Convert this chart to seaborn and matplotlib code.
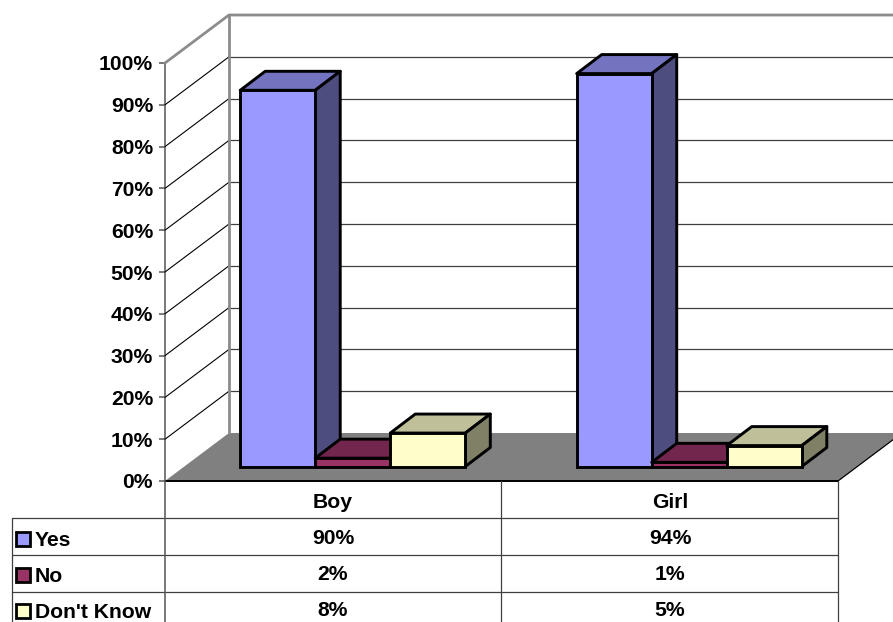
import matplotlib
matplotlib.use('Agg')
import matplotlib.pyplot as plt
from matplotlib.patches import Polygon, Rectangle
import pandas as pd
import seaborn as sns

groups = ['Boy', 'Girl']
answers = ['Yes', 'No', "Don't Know"]
yes_vals = [90, 94]
no_vals = [2, 1]
dk_vals = [8, 5]
y_ticks = [0, 10, 20, 30, 40, 50, 60, 70, 80, 90, 100]

colors = ['#9999FF', '#993366', '#FFFFCC']
W, H = 893, 622

sns.set_style('white')
plt.rcParams['font.family'] = ['Liberation Sans', 'DejaVu Sans']
plt.rcParams['font.weight'] = 'bold'
plt.rcParams['font.size'] = 15.2
plt.rcParams['text.color'] = 'black'
plt.rcParams['ytick.labelcolor'] = 'black'

df = pd.DataFrame({
    'group': groups * 3,
    'answer': [a for a in answers for _ in groups],
    'value': yes_vals + no_vals + dk_vals,
})


def px_axes(left, right, top, bottom):
    return fig.add_axes([left / W, (H - bottom) / H, (right - left) / W, (bottom - top) / H])


def shade(c, f):
    r, g, b, _ = matplotlib.colors.to_rgba(c)
    return (r * f, g * f, b * f)


fig = plt.figure(figsize=(W / 100, H / 100), dpi=100, facecolor='white')

# pixel overlay for floor and data table
bg = fig.add_axes([0, 0, 1, 1], zorder=0)
bg.set_xlim(0, W)
bg.set_ylim(H, 0)
bg.axis('off')
bg.add_patch(Polygon([(165, 481), (229, 433), (902, 433), (838, 481)], fc='#808080', ec='none'))
bg.plot([838, 902], [481, 433], color='black', lw=0.9)
bg.plot([165, 838], [481, 481], color='black', lw=1.4)

line_c = '#404040'
for y in [518, 555, 592]:
    bg.plot([12, 838], [y, y], color=line_c, lw=0.9)
bg.plot([12, 12], [518, H], color=line_c, lw=0.9)
for x in [501, 838]:
    bg.plot([x, x], [481, H], color=line_c, lw=0.9)
bg.plot([165, 165], [63, H], color='#555555', lw=1.1)

col_x = [333, 670]
row_y = [538, 575, 611]
key_y = [532, 568, 604]
for i, g in enumerate(groups):
    bg.text(col_x[i], 502, g, ha='center', va='center')
for r, vals in enumerate([yes_vals, no_vals, dk_vals]):
    bg.add_patch(Rectangle((16, key_y[r]), 14, 14, fc=colors[r], ec='black', lw=2))
    bg.text(35, row_y[r] + 2, answers[r], ha='left', va='center')
    for i, v in enumerate(vals):
        bg.text(col_x[i], row_y[r], f'{v}%', ha='center', va='center')

# value axis and back walls
ax_val = px_axes(165, 838, 63, 481)
ax_val.set_zorder(1)
ax_val.patch.set_alpha(0)
ax_val.set_xlim(-0.5, 1.5)
ax_val.set_ylim(0, 100)
for s in ax_val.spines.values():
    s.set_visible(False)
ax_val.set_xticks([])
ax_val.set_yticks(y_ticks)
ax_val.set_yticklabels([f'{t}%' for t in y_ticks])
ax_val.tick_params(axis='y', length=4.3, width=1.1, color='#555555', pad=4.3, left=True)

xpx = 2 / 673
ypx = 100 / 418
wall_x = -0.5 + 64 * xpx
wall_dy = 48 * ypx
for t in y_ticks[1:-1]:
    ax_val.plot([-0.5, wall_x], [t, t + wall_dy], color='black', lw=0.8, clip_on=False)
    ax_val.plot([wall_x, 1.5 + 64 * xpx], [t + wall_dy] * 2, color='#404040', lw=0.9, clip_on=False)
ax_val.plot([-0.5, wall_x, 1.5 + 64 * xpx], [100, 100 + wall_dy, 100 + wall_dy],
            color='#8c8c8c', lw=2, clip_on=False)
ax_val.plot([wall_x, wall_x], [wall_dy, 100 + wall_dy], color='#8c8c8c', lw=2, clip_on=False)

# bars sit a little way back from the front edge of the floor
ax_bar = px_axes(184.5, 857.5, 48.5, 466.5)
ax_bar.set_zorder(2)
ax_bar.patch.set_alpha(0)
sns.barplot(data=df, x='group', y='value', hue='answer', hue_order=answers,
            palette=colors, width=0.669, gap=0, legend=False, saturation=1,
            edgecolor='black', linewidth=2.1, ax=ax_bar)
ax_bar.set_xlim(-0.5, 1.5)
ax_bar.set_ylim(0, 100)
ax_bar.axis('off')

dx = 25 * xpx
dy = 19 * ypx
for n, bar in enumerate(ax_bar.patches):
    hue_i = n // len(groups)
    x0, w, h = bar.get_x(), bar.get_width(), bar.get_height()
    c = colors[hue_i]
    bar.set_zorder(3 + 2 * hue_i)
    bar.set_clip_on(False)
    top = [(x0, h), (x0 + w, h), (x0 + w + dx, h + dy), (x0 + dx, h + dy)]
    side = [(x0 + w, 0), (x0 + w + dx, dy), (x0 + w + dx, h + dy), (x0 + w, h)]
    for pts, f in [(top, 0.75), (side, 0.5)]:
        ax_bar.add_patch(Polygon(pts, fc=shade(c, f), ec='black', lw=2.1,
                                 joinstyle='round', zorder=2 + 2 * hue_i, clip_on=False))

fig.savefig('out.png', dpi=100)
